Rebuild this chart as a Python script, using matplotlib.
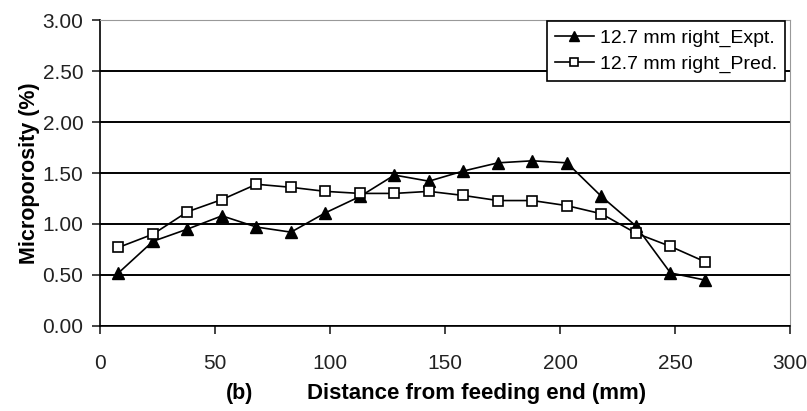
import numpy as np
import matplotlib.pyplot as plt

# distance from feeding end (mm)
dist = [8, 23, 38, 53, 68, 83, 98, 113, 128, 143, 158, 173, 188, 203, 218, 233, 248, 263]
# measured microporosity (%)
expt = [0.52, 0.83, 0.95, 1.08, 0.97, 0.92, 1.11, 1.27, 1.48, 1.42, 1.52, 1.60, 1.62, 1.60, 1.27, 0.98, 0.52, 0.45]
# predicted microporosity (%)
pred = [0.77, 0.90, 1.12, 1.24, 1.39, 1.36, 1.32, 1.30, 1.30, 1.32, 1.28, 1.23, 1.23, 1.18, 1.10, 0.91, 0.78, 0.63]

xticks = [0, 50, 100, 150, 200, 250, 300]
yticks = [0.0, 0.5, 1.0, 1.5, 2.0, 2.5, 3.0]

plt.rcParams['font.family'] = ['Liberation Sans', 'DejaVu Sans']

fig = plt.figure(figsize=(8.07, 4.11), dpi=100)
ax = fig.add_axes([0.124, 0.207, 0.855, 0.744])

ax.plot(dist, expt, color='black', lw=1.2, marker='^', ms=8,
        mfc='black', mec='black', label='12.7 mm right_Expt.')
ax.plot(dist, pred, color='black', lw=1.2, marker='s', ms=7,
        mfc='white', mec='black', mew=1.2, label='12.7 mm right_Pred.')

ax.set_xlim(0, 300)
ax.set_ylim(0, 3.0)
ax.set_xticks(xticks)
ax.set_yticks(yticks)
ax.set_yticklabels([f'{v:.2f}' for v in yticks])
ax.yaxis.grid(True, color='black', lw=1.4)
ax.set_axisbelow(True)
ax.tick_params(axis='both', direction='out', length=6, width=1.2, labelsize=15, colors='#222222')
ax.tick_params(axis='x', pad=14)
ax.tick_params(axis='y', pad=6)

for s in ['top', 'right']:
    ax.spines[s].set_color('#999999')
for s in ['left', 'bottom']:
    ax.spines[s].set_linewidth(1.2)

ax.set_ylabel('Microporosity (%)', fontsize=15.5, fontweight='bold', labelpad=2)

fig.text(0.280, 0.03, '(b)', fontsize=15.5, fontweight='bold', ha='left')
fig.text(0.380, 0.03, 'Distance from feeding end (mm)', fontsize=16, fontweight='bold', ha='left')

leg = ax.legend(loc='upper right', bbox_to_anchor=(0.992, 0.997), fontsize=14,
                handlelength=2.0, handletextpad=0.3, borderaxespad=0.0,
                fancybox=False, framealpha=1, edgecolor='black',
                borderpad=0.4, labelspacing=0.45, markerscale=0.85)
leg.get_frame().set_linewidth(1.2)

fig.savefig('out.png', dpi=100)
